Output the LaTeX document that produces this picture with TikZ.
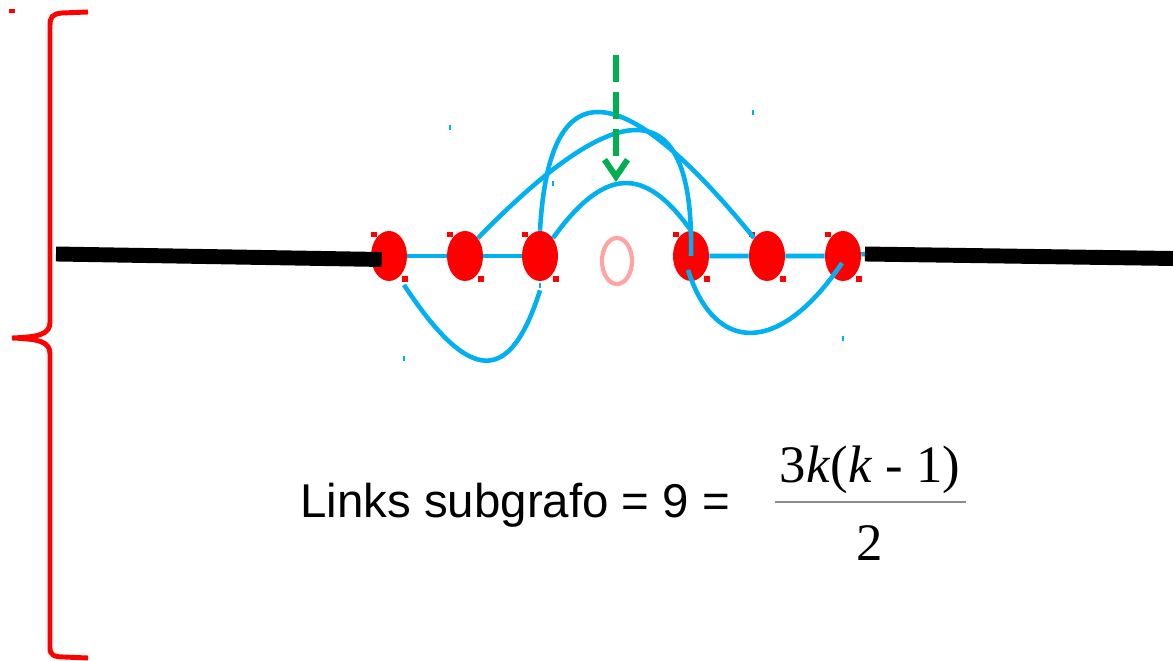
\documentclass[tikz,border=0pt]{standalone}
\usepackage{fontspec}
\setmainfont{Liberation Sans}
\newfontfamily\formfont{Liberation Serif}
\usepackage{tikz}
\usetikzlibrary{arrows.meta,shapes.geometric,calc}
\definecolor{vred}{HTML}{FF0000}
\definecolor{lblue}{HTML}{00B0F0}
\definecolor{agreen}{HTML}{00B050}
\definecolor{hole}{HTML}{FFA3A3}
\definecolor{rulegray}{HTML}{8C8C8C}

\begin{document}
\begin{tikzpicture}[
  x=0.02cm, y=-0.02cm,
  vertex/.style={ellipse, fill=vred, minimum width=0.72cm, minimum height=1cm, inner sep=0pt},
  removed/.style={ellipse, draw=hole, line width=2.4pt, minimum width=0.6cm, minimum height=0.92cm, inner sep=0pt},
  link/.style={draw=lblue, line width=2.6pt},
  chain/.style={draw=black, line width=8.5pt},
  pointer/.style={draw=agreen, line width=3.4pt,
    dash pattern=on 0.54cm off 0.2cm on 0.54cm off 0.2cm on 0.54cm off 1cm,
    -{Straight Barb[length=0.34cm, width=0.46cm]}},
  handle/.style={fill=vred},
]
\useasboundingbox (0,0) rectangle (1173,661);
% --- red brace on the left ---
\draw[vred, line width=2.8pt] (88,12) -- (62,13) .. controls (52,14) and (50,17) .. (50,26)
  -- (50,322) .. controls (50,334) and (40,337) .. (12,338)
  .. controls (40,339) and (50,342) .. (50,354)
  -- (50,648) .. controls (50,655) and (54,657) .. (64,657) -- (88,658);
\fill[vred] (9,9) rectangle (15,13);
% --- vertices of the ring ---
\foreach \n/\x in {1/389,2/465,3/540,4/691,5/767,6/843}
  \node[vertex] (n\n) at (\x,256) {};
\node[removed] (n0) at (617,261) {};
\foreach \n in {1,...,6} {
  \fill[handle] ($(n\n.center)+(-18,-24)$) rectangle +(5.5,5.5);
  \fill[handle] ($(n\n.center)+(13,20.5)$) rectangle +(5.5,5.5);
}
% --- ring edges ---
\coordinate (lend) at (56,254);
\coordinate (rstart) at (865,254);
\coordinate (rend) at (1173,258.5);
\draw[link] (n1) -- (n2) -- (n3);
\draw[link] (n4) -- (n5) -- (n6) -- (rstart);
\draw[chain] (lend) -- ($(n1.west)+(11,3.5)$);
\draw[chain] (rstart) -- (rend);
% --- links of the subgraph ---
\draw[link] (n2.north east) .. controls (595,118) and (695,65) .. (n4.center);
\draw[link] (n3.north) .. controls (548,88) and (605,55) .. (n5.north west);
\draw[link] (n3.north east) .. controls (605,166) and (645,166) .. (n4.north);
\draw[link] ($(n1.south east)+(2,11)$) .. controls (470,385) and (510,385) .. ($(n3.south)+(0,9)$);
\draw[link] ($(n4.center)+(-3,14)$) .. controls (715,355) and (780,355) .. ($(n6.center)+(-1,7)$);
\foreach \x/\y in {450/125,753/110,553/181,404/356,843/336,540/283}
  \draw[lblue, line width=0.6pt] (\x,\y) -- ++(0,5);
% --- arrow onto the removed vertex ---
\coordinate (gtop) at (616,55);
\coordinate (gtip) at (616,182);
\draw[pointer] (gtop) -- (gtip);
% --- count ---
\node[anchor=base west, inner sep=0pt, font=\fontsize{27}{30}\selectfont] (count) at (300,518)
  {Links subgrafo = 9 =};
\node[anchor=base, inner sep=0pt, font=\formfont\fontsize{30}{34}\selectfont] (num) at (870,483)
  {3\textit{k}(\textit{k} - 1)};
\node[anchor=base, inner sep=0pt, font=\formfont\fontsize{30}{34}\selectfont] (den) at (870,561) {2};
\draw[rulegray, line width=0.9pt] (775,502) -- (966,502);
\end{tikzpicture}
\end{document}
